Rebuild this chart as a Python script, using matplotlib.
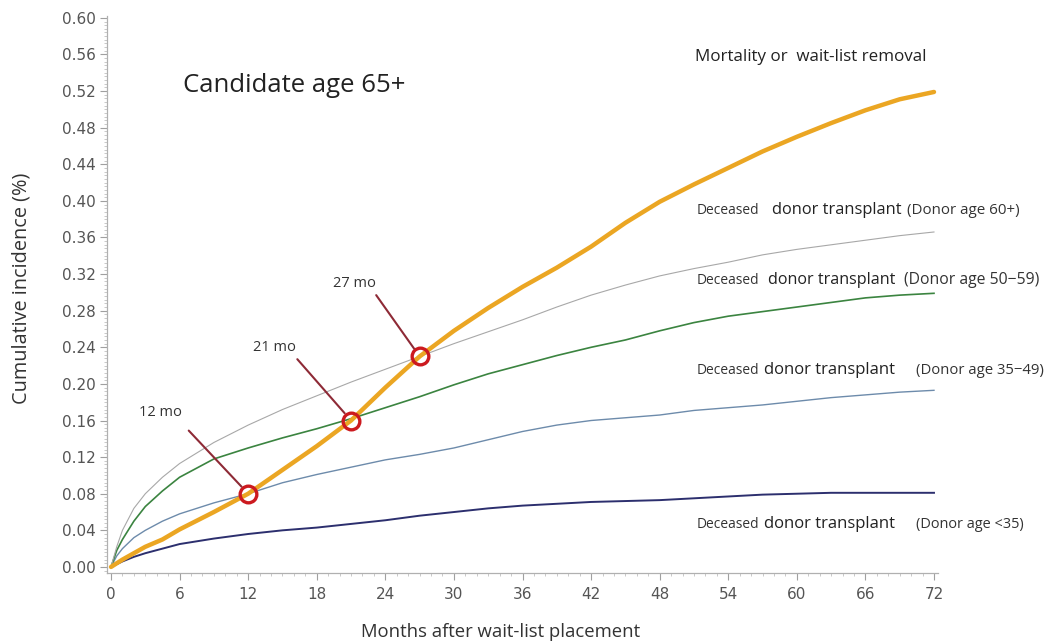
import numpy as np
import matplotlib.pyplot as plt
from matplotlib.ticker import MultipleLocator, FormatStrFormatter

# months after wait-list placement, shared by every curve
months = [0, 0.5, 1, 2, 3, 4.5, 6, 9, 12, 15, 18, 21, 24, 27, 30, 33, 36, 39,
          42, 45, 48, 51, 54, 57, 60, 63, 66, 69, 72]

# cumulative incidence per outcome
mortality = [0, 0.004, 0.008, 0.015, 0.022, 0.030, 0.041, 0.060, 0.080, 0.106,
             0.132, 0.160, 0.196, 0.230, 0.258, 0.283, 0.306, 0.327, 0.350,
             0.376, 0.399, 0.418, 0.436, 0.454, 0.470, 0.485, 0.499, 0.511, 0.519]
donor_60 = [0, 0.022, 0.040, 0.064, 0.080, 0.098, 0.113, 0.136, 0.155, 0.172,
            0.187, 0.202, 0.216, 0.230, 0.244, 0.257, 0.270, 0.284, 0.297,
            0.308, 0.318, 0.326, 0.333, 0.341, 0.347, 0.352, 0.357, 0.362, 0.366]
donor_50 = [0, 0.018, 0.030, 0.050, 0.066, 0.083, 0.098, 0.118, 0.130, 0.141,
            0.151, 0.162, 0.174, 0.186, 0.199, 0.211, 0.221, 0.231, 0.240,
            0.248, 0.258, 0.267, 0.274, 0.279, 0.284, 0.289, 0.294, 0.297, 0.299]
donor_35 = [0, 0.012, 0.020, 0.032, 0.040, 0.050, 0.058, 0.070, 0.080, 0.092,
            0.101, 0.109, 0.117, 0.123, 0.130, 0.139, 0.148, 0.155, 0.160,
            0.163, 0.166, 0.171, 0.174, 0.177, 0.181, 0.185, 0.188, 0.191, 0.193]
donor_lt35 = [0, 0.003, 0.006, 0.011, 0.015, 0.020, 0.025, 0.031, 0.036, 0.040,
              0.043, 0.047, 0.051, 0.056, 0.060, 0.064, 0.067, 0.069, 0.071,
              0.072, 0.073, 0.075, 0.077, 0.079, 0.080, 0.081, 0.081, 0.081, 0.081]

# points where mortality overtakes each transplant curve
cross_months = [12, 21, 27]
cross_values = [0.08, 0.16, 0.23]
cross_labels = ['12 mo', '21 mo', '27 mo']

txt_font = ['Open Sans', 'DejaVu Sans']
W, H = 1045, 643

fig = plt.figure(figsize=(10.45, 6.43), dpi=100)
ax = fig.add_axes([0.1024, 0.1089, 0.7952, 0.8662])
renderer = fig.canvas.get_renderer()


def fit(t, width_px):
    # scale a text so it spans the given width in pixels
    w = t.get_window_extent(renderer).width
    t.set_fontsize(t.get_fontsize() * width_px / w)
    return t


ax.plot(months, donor_lt35, color='#2c2f6e', lw=1.4)
ax.plot(months, donor_35, color='#6d8bab', lw=1.0)
ax.plot(months, donor_50, color='#3b8440', lw=1.2)
ax.plot(months, donor_60, color='#a8a8a8', lw=0.8)
ax.plot(months, mortality, color='#eba623', lw=3.2, solid_capstyle='round')

# red rings and leader lines at the crossings
label_pos = [(4.3, 0.169), (14.3, 0.240), (21.3, 0.310)]
line_start = [(6.8, 0.149), (16.3, 0.227), (23.2, 0.297)]
for m, v, lab, lp, ls in zip(cross_months, cross_values, cross_labels, label_pos, line_start):
    ax.annotate('', xy=(m, v), xytext=ls,
                arrowprops=dict(arrowstyle='-', color='#8e2a36', lw=1.5,
                                shrinkA=0, shrinkB=7))
    ax.plot([m], [v], 'o', ms=12, mfc='none', mec='#cc1a1f', mew=2.4)
    t = ax.text(lp[0], lp[1], lab, fontsize=9, family=txt_font, color='#333333',
                ha='center', va='center')
    fit(t, 43)

ax.set_xlim(-0.35, 72.35)
ax.set_ylim(-0.0066, 0.602)
ax.xaxis.set_major_locator(MultipleLocator(6))
ax.xaxis.set_minor_locator(MultipleLocator(1))
ax.yaxis.set_major_locator(MultipleLocator(0.04))
ax.yaxis.set_minor_locator(MultipleLocator(0.004))
ax.yaxis.set_major_formatter(FormatStrFormatter('%.2f'))

for s in ['top', 'right']:
    ax.spines[s].set_visible(False)
for s in ['left', 'bottom']:
    ax.spines[s].set_color('#b0b0b0')
    ax.spines[s].set_linewidth(0.9)
ax.tick_params(which='major', length=5, width=0.8, color='#a0a0a0',
               labelsize=11, labelcolor='#555555')
ax.tick_params(which='minor', length=2.5, width=0.6, color='#c0c0c0')
ax.tick_params(axis='y', pad=3)
ax.tick_params(axis='x', pad=5)
for lbl in ax.get_xticklabels() + ax.get_yticklabels():
    lbl.set_family('DejaVu Sans')

t = fig.text(22 / W, 1 - 288 / H, 'Cumulative incidence (%)', rotation=90,
             fontsize=12, family=txt_font, color='#333333', ha='center', va='center')
t.set_fontsize(t.get_fontsize() * 230 / t.get_window_extent(renderer).height)
fit(fig.text(501 / W, 1 - 632 / H, 'Months after wait-list placement',
             fontsize=12, family=txt_font, color='#333333', ha='center', va='center'), 278)
fit(fig.text(183 / W, 1 - 86 / H, 'Candidate age 65+', fontsize=17,
             family=txt_font, color='#222222', ha='left', va='center'), 223)
fit(fig.text(695 / W, 1 - 57 / H, 'Mortality or  wait-list removal',
             fontsize=11, family=txt_font, color='#222222', ha='left', va='center'), 233)


def series_label(y_px, age, widths, gaps):
    first = fig.text(697 / W, 1 - y_px / H, 'Deceased', fontsize=9,
                     family=txt_font, color='#333333', ha='left', va='center')
    fit(first, widths[0])
    mid = ax.annotate('donor transplant', xy=(1, 0), xycoords=first,
                      xytext=(gaps[0] * 0.72, 0), textcoords='offset points',
                      fontsize=11, family=txt_font, color='#222222',
                      ha='left', va='bottom', annotation_clip=False)
    fit(mid, widths[1])
    last = ax.annotate('(Donor age ' + age + ')', xy=(1, 0), xycoords=mid,
                       xytext=(gaps[1] * 0.72, 0), textcoords='offset points',
                       fontsize=9, family=txt_font, color='#333333',
                       ha='left', va='bottom', annotation_clip=False)
    fit(last, widths[2])


series_label(210, '60+', (63, 130, 113), (13, 5))
series_label(280, '50\u221259', (63, 128, 136), (8, 9))
series_label(371, '35\u221249', (63, 132, 128), (4, 21))
series_label(525, '<35', (63, 132, 108), (4, 21))

fig.savefig('out.png', dpi=100, facecolor='white')
